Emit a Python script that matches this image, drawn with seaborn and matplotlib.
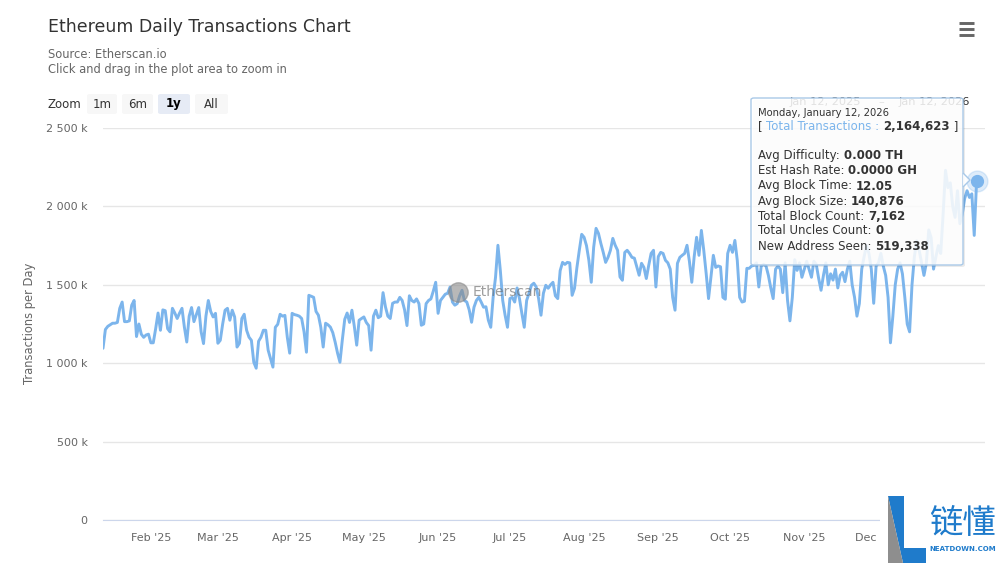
import numpy as np
import pandas as pd
import matplotlib
matplotlib.use("Agg")
import matplotlib.pyplot as plt
import matplotlib.patches as patches
from matplotlib.lines import Line2D
from matplotlib.ticker import FuncFormatter
import seaborn as sns

sns.set_style("white")
plt.rcParams["font.family"] = ["DejaVu Sans", "Noto Sans CJK SC"]

# daily transactions (thousands), Jan 12 2025 .. Jan 12 2026
tx_k = [
    1095, 1215, 1235, 1245, 1255, 1255, 1260, 1350, 1390, 1265,
    1265, 1270, 1370, 1400, 1170, 1250, 1185, 1165, 1180, 1185,
    1130, 1130, 1220, 1320, 1210, 1340, 1335, 1220, 1200, 1350,
    1320, 1285, 1320, 1350, 1230, 1135, 1300, 1355, 1265, 1310,
    1355, 1200, 1125, 1300, 1400, 1330, 1295, 1318,
    1127, 1146, 1250, 1338, 1350, 1274, 1338, 1295, 1103, 1127,
    1285, 1312, 1210, 1166, 1146, 1006, 968, 1140, 1166, 1210,
    1210, 1083, 1030, 975, 1229, 1248, 1312, 1300, 1305, 1166,
    1064, 1318, 1310, 1306, 1300, 1285, 1200, 1070, 1433, 1427,
    1420, 1330, 1306, 1229, 1103, 1255,
    1245, 1230, 1195, 1134, 1064, 1006, 1150, 1280, 1320, 1260,
    1338, 1235, 1115, 1274, 1285, 1295, 1260, 1240, 1083,
    1300, 1338, 1290, 1300, 1450, 1360, 1300, 1285, 1382, 1390,
    1390, 1420, 1400, 1340, 1240, 1430, 1400, 1390, 1410, 1380,
    1242, 1250, 1380, 1400, 1410, 1460, 1516,
    1318, 1400, 1420, 1440, 1446, 1486, 1390, 1370, 1380, 1430,
    1465, 1400, 1390, 1340, 1261, 1357, 1400, 1420, 1390, 1357,
    1360, 1274, 1229, 1420, 1548, 1752, 1592, 1400, 1306, 1229,
    1412, 1420, 1390, 1480, 1412, 1318, 1229, 1400, 1446, 1497,
    1510, 1486, 1412, 1306, 1446, 1497,
    1478, 1500, 1516, 1430, 1412, 1590, 1643, 1630, 1643, 1640,
    1433, 1478, 1610, 1720, 1822, 1803, 1750, 1656, 1516, 1739,
    1860, 1828, 1764, 1707, 1643, 1675, 1720, 1796, 1752,
    1720, 1550, 1529, 1707, 1720, 1700, 1675, 1670, 1615, 1561,
    1637, 1611, 1540, 1624, 1700, 1720, 1486,
    1680, 1707, 1700, 1656, 1640, 1600, 1420, 1338, 1637, 1675,
    1688, 1700, 1752, 1650, 1516, 1680, 1803, 1688, 1847, 1720,
    1573, 1412, 1548, 1688, 1611, 1620, 1615, 1420, 1408, 1700,
    1752, 1707, 1783, 1656, 1420, 1390, 1395, 1605, 1605, 1620,
    1624, 1640, 1486, 1620, 1630, 1620,
    1560, 1480, 1412, 1600, 1620, 1600, 1450, 1640, 1400, 1270,
    1420, 1660, 1592, 1640, 1548, 1600, 1650, 1600, 1548, 1650,
    1630, 1541, 1465, 1560, 1640, 1500, 1570, 1530, 1600, 1480,
    1560, 1580, 1520, 1600, 1650, 1500, 1420, 1300, 1380, 1600,
    1680, 1750, 1700, 1600, 1382, 1620,
    1640, 1700, 1620, 1560, 1420, 1130, 1300, 1500, 1600, 1640,
    1570, 1420, 1250, 1200, 1500, 1680, 1780, 1720, 1640, 1560,
    1640, 1850, 1800, 1600, 1680, 1750, 1700, 1950, 2230, 2120,
    2150, 2000, 1930, 2100, 1890, 1950, 2050, 2100, 2057, 2080,
    1815, 2164.623,
]
dates = pd.date_range("2025-01-12", periods=len(tx_k), freq="D")
df = pd.DataFrame({"date": dates, "tx": tx_k})

y_ticks = [0, 500, 1000, 1500, 2000, 2500]
month_ticks = pd.date_range("2025-02-01", "2025-12-01", freq="MS")
month_labels = [d.strftime("%b '%y") for d in month_ticks]
zoom_buttons = ["1m", "6m", "1y", "All"]
tooltip_date = "Monday, January 12, 2026"
tooltip_total = "2,164,623"
tooltip_rows = [
    ("Avg Difficulty: ", "0.000 TH"),
    ("Est Hash Rate: ", "0.0000 GH"),
    ("Avg Block Time: ", "12.05"),
    ("Avg Block Size: ", "140,876"),
    ("Total Block Count: ", "7,162"),
    ("Total Uncles Count: ", "0"),
    ("New Address Seen: ", "519,338"),
]

LINE = "#7cb5ec"
W, H = 1001, 565
fig = plt.figure(figsize=(W / 100, H / 100), dpi=100)
fig.patch.set_facecolor("white")


def fx(x):
    return x / W


def fy(y):
    return 1 - y / H


ax = fig.add_axes([fx(103), fy(520), fx(985) - fx(103), fy(128) - fy(520)])
sns.lineplot(data=df, x="date", y="tx", ax=ax, color=LINE, linewidth=2.1, zorder=3)
ax.plot([dates[-1]], [tx_k[-1]], "o", ms=15, color=LINE, alpha=0.25, zorder=4, clip_on=False)
ax.plot([dates[-1]], [tx_k[-1]], "o", ms=8.5, color=LINE, zorder=5, clip_on=False)

ax.set_xlim(dates[0], dates[0] + pd.Timedelta(days=368.5))
ax.set_ylim(0, 2500)
ax.set_yticks(y_ticks)
ax.yaxis.set_major_formatter(FuncFormatter(lambda v, p: "0" if v == 0 else f"{int(v):,} k".replace(",", " ")))
ax.set_xticks(month_ticks)
ax.set_xticklabels(month_labels)
ax.grid(axis="y", color="#e6e6e6", lw=1)
ax.grid(axis="x", visible=False)
for s in ["top", "right", "left"]:
    ax.spines[s].set_visible(False)
ax.spines["bottom"].set_color("#ccd6eb")
ax.tick_params(axis="y", length=0, pad=11, labelsize=8, labelcolor="#666666")
ax.tick_params(axis="x", length=7.2, width=0.8, color="#ccd6eb", pad=2.5, labelsize=8, labelcolor="#666666")
ax.set_xlabel("")
ax.set_ylabel("")

fig.text(fx(30), fy(323), "Transactions per Day", rotation=90, ha="center", va="center", size=8.3, color="#666666")

# titles
fig.text(fx(48), fy(27), "Ethereum Daily Transactions Chart", size=12.5, color="#333333", va="center")
fig.text(fx(48), fy(55), "Source: Etherscan.io", size=8.3, color="#666666", va="center")
fig.text(fx(48), fy(70), "Click and drag in the plot area to zoom in", size=8.3, color="#666666", va="center")

# zoom buttons
fig.text(fx(48), fy(104), "Zoom", size=8.5, color="#333333", va="center")
for (x0, x1), lab in zip([(87, 117), (122, 153), (158, 190), (195, 228)], zoom_buttons):
    sel = lab == "1y"
    fig.add_artist(patches.FancyBboxPatch((fx(x0), fy(114)), fx(x1) - fx(x0), fy(94) - fy(114),
                                          boxstyle="round,pad=0,rounding_size=0.003",
                                          transform=fig.transFigure, fc="#e6ebf5" if sel else "#f7f7f7", ec="none"))
    fig.text(fx((x0 + x1) / 2), fy(104), lab, size=8.5, ha="center", va="center",
             color="#000000" if sel else "#333333", weight="bold" if sel else "normal")

# date range inputs (sit behind the tooltip)
fig.text(fx(790), fy(102), "Jan 12, 2025", size=8.2, color="#333333", va="center")
fig.text(fx(881), fy(102), "–", size=8.2, color="#333333", va="center", ha="center")
fig.text(fx(970), fy(102), "Jan 12, 2026", size=8.2, color="#333333", va="center", ha="right")

# menu icon
for yy in [23, 29, 35]:
    fig.add_artist(Line2D([fx(959), fx(974)], [fy(yy), fy(yy)], color="#666666", lw=2.1, solid_capstyle="butt"))

# etherscan watermark
fig.add_artist(Line2D([fx(458)], [fy(292)], marker="o", ms=14, color="#8a8a8a", alpha=0.6, zorder=6))
fig.text(fx(473), fy(292), "Etherscan", size=10, color="#6b6b6b", alpha=0.65, va="center", zorder=6)

# tooltip
fig.add_artist(patches.FancyBboxPatch((fx(753), fy(267)), fx(963) - fx(751), fy(98) - fy(265),
                                      boxstyle="round,pad=0,rounding_size=0.003", transform=fig.transFigure,
                                      fc=(0, 0, 0, 0.08), ec="none", zorder=9))
fig.add_artist(patches.FancyBboxPatch((fx(751), fy(265)), fx(963) - fx(751), fy(98) - fy(265),
                                      boxstyle="round,pad=0,rounding_size=0.003", transform=fig.transFigure,
                                      fc=(1, 1, 1, 0.86), ec="#a9c9e8", lw=1, zorder=10))
fig.add_artist(patches.Polygon([(fx(963), fy(173)), (fx(970), fy(180)), (fx(963), fy(187))], closed=False,
                               transform=fig.transFigure, fc=(1, 1, 1, 0.86), ec="#a9c9e8", lw=1, zorder=10))

renderer = fig.canvas.get_renderer()


def rich(x, y, parts, size):
    for s, color, weight in parts:
        t = fig.text(fx(x), fy(y), s, size=size, color=color, weight=weight, va="center", ha="left", zorder=11)
        x += t.get_window_extent(renderer).width


fig.text(fx(758), fy(113), tooltip_date, size=7.2, color="#333333", va="center", zorder=11)
rich(758, 127, [("[ ", "#333333", "normal"), ("Total Transactions : ", LINE, "normal"),
                (tooltip_total, "#333333", "bold"), (" ]", "#333333", "normal")], 8.5)
for k, (lab, val) in enumerate(tooltip_rows):
    rich(758, 156 + 15 * k, [(lab, "#333333", "normal"), (val, "#333333", "bold")], 8.5)

# neatdown logo
fig.add_artist(patches.Rectangle((fx(880), 0), 1 - fx(880), fy(490), transform=fig.transFigure,
                                 fc="white", ec="none", zorder=12))
fig.add_artist(patches.Polygon([(fx(888), fy(496)), (fx(904), fy(496)), (fx(904), fy(548)), (fx(926), fy(548)),
                                (fx(926), fy(563)), (fx(903), fy(563))],
                               transform=fig.transFigure, fc="#1f7bcb", ec="none", zorder=13))
fig.add_artist(patches.Polygon([(fx(888), fy(496)), (fx(903), fy(563)), (fx(888), fy(563))],
                               transform=fig.transFigure, fc="#8e8e8e", ec="none", zorder=13))
fig.text(fx(962), fy(523), "链懂", size=24, color="#1f7bcb", ha="center", va="center", zorder=13,
         family=["Noto Sans CJK SC"])
fig.text(fx(963), fy(549), "NEATDOWN.COM", size=5, color="#1f7bcb", weight="bold",
         ha="center", va="center", zorder=13)

fig.savefig("out.png", dpi=100)
